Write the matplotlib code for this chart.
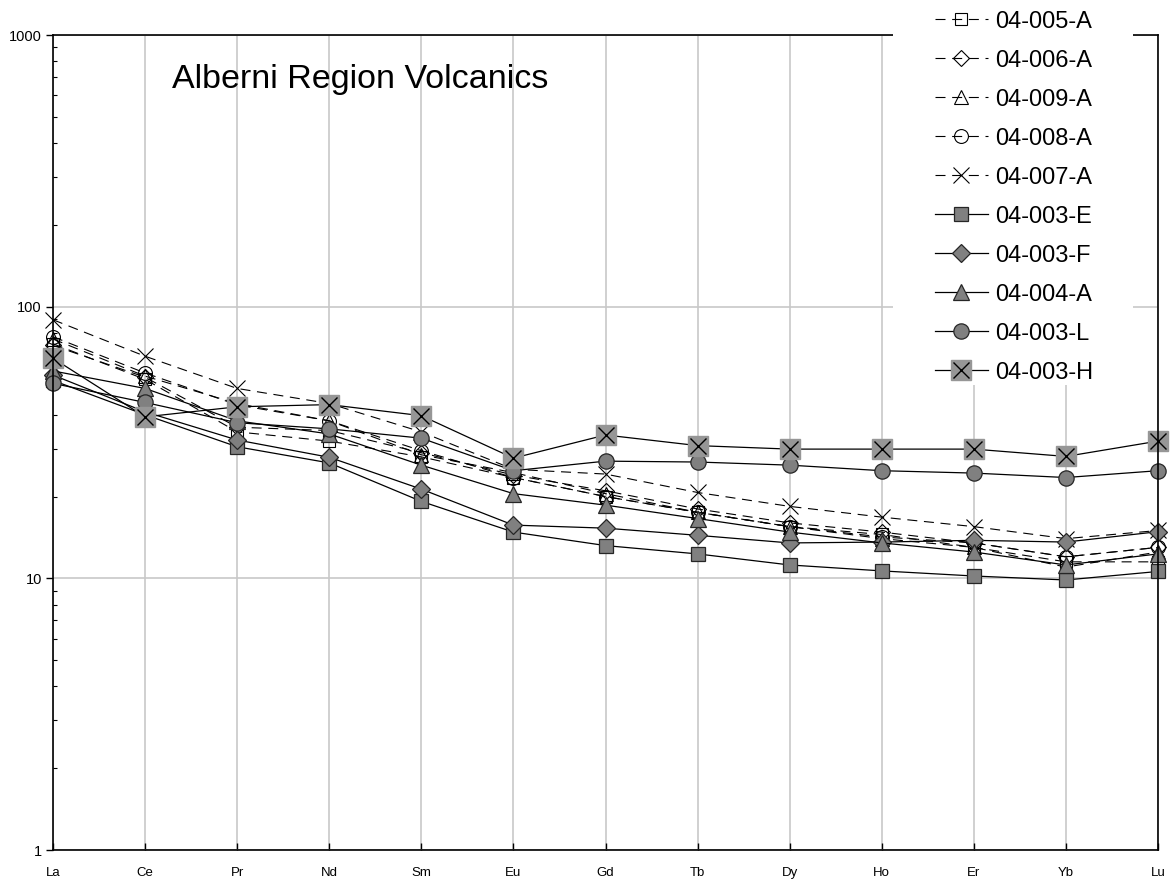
import numpy as np
import matplotlib
matplotlib.use("Agg")
import matplotlib.pyplot as plt
from matplotlib.patches import Rectangle
from matplotlib.ticker import LogLocator, FixedLocator, FixedFormatter, NullFormatter

plt.rcParams['font.family'] = ['Liberation Sans', 'DejaVu Sans']

# chondrite-normalised REE, one list per sample
elements = ["La", "Ce", "Pr", "Nd", "Sm", "Eu", "Gd", "Tb", "Dy", "Ho", "Er", "Yb", "Lu"]

s_005A = [73, 54, 34.6, 32, 28, 23.5, 20, 17.5, 15.5, 14.5, 13.0, 11.5, 11.5]
s_006A = [72, 55, 36, 35, 29, 24, 21, 18, 16, 14.8, 13.5, 12.0, 13.0]
s_009A = [76, 55.5, 44, 38, 28.5, 24.5, 20.5, 17.5, 15.5, 14.0, 13.0, 11.0, 12.5]
s_008A = [77.5, 57, 43.5, 38, 29.5, 23.5, 20, 17.5, 15.5, 14.2, 13.5, 12.0, 13.0]
s_007A = [89.5, 65.7, 50, 44, 34.6, 25.2, 24.2, 20.7, 18.4, 16.8, 15.5, 14.0, 15.0]

s_003E = [53.5, 40, 30.5, 26.6, 19.2, 14.8, 13.2, 12.3, 11.2, 10.65, 10.2, 9.86, 10.6]
s_003F = [56, 41, 32.3, 27.9, 21.3, 15.7, 15.3, 14.4, 13.5, 13.6, 13.8, 13.6, 14.85]
s_004A = [58, 50, 38, 34, 26.1, 20.5, 18.6, 16.6, 14.8, 13.5, 12.5, 11.2, 12.3]
s_003L = [52.2, 44.4, 37.4, 35.5, 32.8, 24.9, 27.0, 26.8, 26.1, 24.9, 24.4, 23.5, 24.9]
s_003H = [64.6, 39.3, 42.8, 43.6, 39.7, 27.7, 33.7, 30.8, 29.9, 29.9, 29.9, 28.1, 32.0]

fig = plt.figure(figsize=(11.73, 8.82), dpi=100)
ax = fig.add_axes([53 / 1173, 32 / 882, 1105 / 1173, 815 / 882])
x = np.arange(len(elements))

dash = (0, (9, 6))
open_kw = dict(color='black', lw=0.8, ls=dash, mfc='none', mec='black',
               mew=0.8, clip_on=False)
fill_kw = dict(color='black', lw=0.9, ls='-', mfc='#808080', mec='#262626',
               mew=0.9, clip_on=False)

handles = []
handles += ax.plot(x, s_005A, marker='s', ms=9, label='04-005-A', **open_kw)
handles += ax.plot(x, s_006A, marker='D', ms=8, label='04-006-A', **open_kw)
handles += ax.plot(x, s_009A, marker='^', ms=10, label='04-009-A', **open_kw)
handles += ax.plot(x, s_008A, marker='o', ms=10, label='04-008-A', **open_kw)
handles += ax.plot(x, s_007A, marker='x', ms=11, label='04-007-A', **open_kw)

handles += ax.plot(x, s_003E, marker='s', ms=10, label='04-003-E', **fill_kw)
handles += ax.plot(x, s_003F, marker='D', ms=9, label='04-003-F', **fill_kw)
handles += ax.plot(x, s_004A, marker='^', ms=12, label='04-004-A', **fill_kw)
handles += ax.plot(x, s_003L, marker='o', ms=11, label='04-003-L', **fill_kw)

h_sq, = ax.plot(x, s_003H, color='black', lw=0.9, marker='s', ms=14,
                mfc='#969696', mec='#969696', clip_on=False)
h_x, = ax.plot(x, s_003H, ls='none', marker='x', ms=11, mec='black', mew=1.0,
               clip_on=False)
handles.append((h_sq, h_x))
labels = ['04-005-A', '04-006-A', '04-009-A', '04-008-A', '04-007-A',
          '04-003-E', '04-003-F', '04-004-A', '04-003-L', '04-003-H']

ax.set_yscale('log')
ax.set_ylim(1, 1000)
ax.set_xlim(0, len(elements) - 1)

ax.yaxis.set_major_locator(FixedLocator([1, 10, 100, 1000]))
ax.yaxis.set_major_formatter(FixedFormatter(['1', '10', '100', '1000']))
ax.yaxis.set_minor_locator(LogLocator(base=10, subs=np.arange(2, 10)))
ax.yaxis.set_minor_formatter(NullFormatter())
ax.tick_params(axis='y', which='major', direction='out', length=5, width=1,
               labelsize=10.5, pad=3)
ax.tick_params(axis='y', which='minor', direction='in', length=3, width=0.8)

ax.set_xticks(x)
ax.set_xticklabels(elements)
ax.tick_params(axis='x', direction='in', length=5, width=1, labelsize=9.5, pad=12)

ax.grid(True, which='major', color='#c8c8c8', lw=1.2)
ax.set_axisbelow(True)
for sp in ax.spines.values():
    sp.set_linewidth(1.2)

ax.text(0.108, 0.945, 'Alberni Region Volcanics', transform=ax.transAxes,
        fontsize=24.5, ha='left', va='center')

# white block behind the legend, covering the frame and grid there
fig.add_artist(Rectangle((893 / 1173, 1 - 385 / 882), 240 / 1173, 385 / 882,
                         transform=fig.transFigure, facecolor='white',
                         edgecolor='none', zorder=4))

leg = fig.legend(handles, labels, loc='upper left',
                 bbox_to_anchor=(924 / 1173, 1.0, 209 / 1173, 0.0),
                 fontsize=17, frameon=False, handlelength=2.25,
                 handletextpad=0.3, labelspacing=0.72, borderpad=0.45,
                 borderaxespad=0)
leg.set_zorder(5)

fig.savefig('out.png', dpi=100)
